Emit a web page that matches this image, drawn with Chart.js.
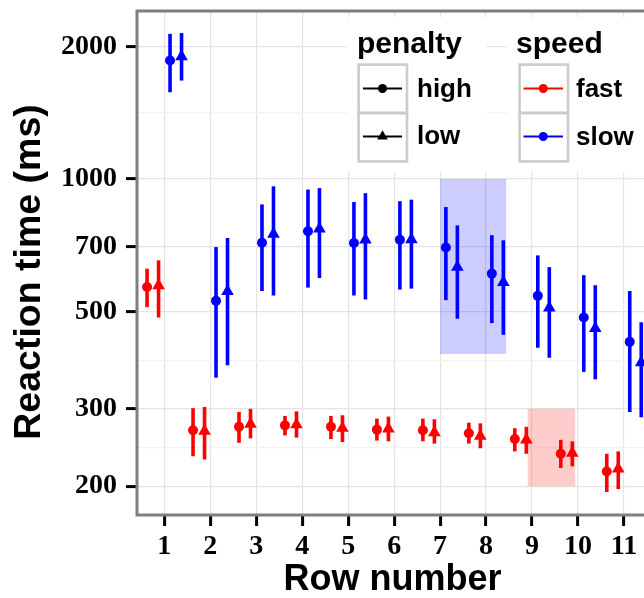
<!DOCTYPE html>
<html>
<head>
<meta charset="utf-8">
<script src="https://cdn.jsdelivr.net/npm/chart.js@4.4.1/dist/chart.umd.min.js"></script>
<style>
  html, body { margin: 0; padding: 0; background: #ffffff; }
  #wrap { width: 644px; height: 598px; overflow: hidden; position: relative; }
  canvas { display: block; }
</style>
</head>
<body>
<div id="wrap"><canvas id="chart" width="648" height="598"></canvas></div>
<script>
// Row numbers on the x axis
const rows = [1, 2, 3, 4, 5, 6, 7, 8, 9, 10, 11];

// Reaction times (ms): point estimate and interval ends, per speed x penalty cell
const fastHigh   = [568, 268, 273, 275, 273, 269, 268, 264, 256, 237, 216];
const fastHighLo = [511, 234, 251, 261, 256, 254, 253, 250, 240, 220, 194];
const fastHighHi = [625, 301, 295, 289, 289, 285, 285, 279, 271, 255, 237];

const fastLow    = [572, 267, 277, 276, 271, 270, 265, 260, 255, 238, 219];
const fastLowLo  = [484, 230, 257, 258, 252, 253, 250, 244, 237, 222, 197];
const fastLowHi  = [653, 303, 300, 296, 290, 288, 284, 278, 273, 253, 240];

const slowHigh   = [1859, 528, 716, 760, 715, 727, 698, 609, 542, 484, 426];
const slowHighLo = [1575, 353, 556, 566, 543, 560, 530, 470, 413, 364, 295];
const slowHighHi = [2138, 700, 875, 946, 886, 890, 863, 745, 670, 604, 556];

const slowLow    = [1898, 555, 749, 770, 727, 728, 630, 582, 509, 457, 382];
const slowLowLo  = [1674, 377, 543, 595, 532, 563, 481, 442, 392, 350, 287];
const slowLowHi  = [2147, 734, 962, 953, 928, 897, 784, 725, 630, 573, 472];

// Y axis breaks (log scale) and the lighter in-between grid lines
const yBreaks = [200, 300, 500, 700, 1000, 2000];
const yMinorBreaks = [245, 387, 1414];

// Highlighted regions: x range (row units) and y range (ms)
const boxX0 = [7, 8.906];
const boxX1 = [8.4375, 9.9375];
const boxY0 = [400, 200];
const boxY1 = [1000, 300];
const boxFill = ['rgba(0,0,255,0.2)', 'rgba(255,0,0,0.2)'];

const RED = '#ff0000';
const BLUE = '#0000ff';
const SANS = '"Liberation Sans", Arial, sans-serif';
const SERIF = '"Liberation Serif", "Times New Roman", serif';

function series(values, lo, hi, dx, color, shape) {
  return {
    data: rows.map((r, i) => ({ x: r + dx, y: values[i] })),
    lo: lo,
    hi: hi,
    barColor: color,
    backgroundColor: color,
    borderWidth: 0,
    pointStyle: shape,
    pointRadius: shape === 'triangle' ? 7.3 : 5,
    pointHoverRadius: shape === 'triangle' ? 7.3 : 5,
    showLine: false
  };
}

const datasets = [
  series(fastHigh, fastHighLo, fastHighHi, -0.375, RED, 'circle'),
  series(fastLow, fastLowLo, fastLowHi, -0.125, RED, 'triangle'),
  series(slowHigh, slowHighLo, slowHighHi, 0.125, BLUE, 'circle'),
  series(slowLow, slowLowLo, slowLowHi, 0.375, BLUE, 'triangle')
];

// Shaded boxes and vertical interval bars, drawn under the point symbols
const underlays = {
  id: 'underlays',
  beforeDatasetsDraw(chart) {
    const { ctx, chartArea, scales: { x, y } } = chart;
    ctx.save();
    ctx.beginPath();
    ctx.rect(chartArea.left, chartArea.top, chartArea.right - chartArea.left, chartArea.bottom - chartArea.top);
    ctx.clip();
    for (let k = 0; k < boxX0.length; k++) {
      const px0 = x.getPixelForValue(boxX0[k]);
      const px1 = x.getPixelForValue(boxX1[k]);
      const py0 = y.getPixelForValue(boxY1[k]);
      const py1 = y.getPixelForValue(boxY0[k]);
      ctx.fillStyle = boxFill[k];
      ctx.fillRect(px0, py0, px1 - px0, py1 - py0);
    }
    ctx.lineWidth = 3.6;
    ctx.lineCap = 'butt';
    chart.data.datasets.forEach(ds => {
      ctx.strokeStyle = ds.barColor;
      ds.data.forEach((pt, i) => {
        const px = x.getPixelForValue(pt.x);
        ctx.beginPath();
        ctx.moveTo(px, y.getPixelForValue(ds.hi[i]));
        ctx.lineTo(px, y.getPixelForValue(ds.lo[i]));
        ctx.stroke();
      });
    });
    ctx.restore();
  }
};

// Legends inside the panel, grey panel frame, and the vertical axis title
const overlays = {
  id: 'overlays',
  afterDraw(chart) {
    const { ctx, chartArea } = chart;
    ctx.save();

    // legend backgrounds
    ctx.fillStyle = '#ffffff';
    ctx.fillRect(347, 17, 140, 155);
    ctx.fillRect(507, 17, 141, 155);

    ctx.fillStyle = '#000000';
    ctx.textAlign = 'left';
    ctx.textBaseline = 'alphabetic';
    ctx.font = 'bold 30px ' + SANS;
    ctx.fillText('penalty', 357, 53);
    ctx.fillText('speed', 516, 53);

    ctx.font = 'bold 26px ' + SANS;
    ctx.fillText('high', 417, 97);
    ctx.fillText('low', 417, 144);
    ctx.fillText('fast', 576, 97);
    ctx.fillText('slow', 576, 145);

    // key boxes
    ctx.strokeStyle = '#cccccc';
    ctx.lineWidth = 2.6;
    [[358.6, 64.6], [358.6, 113], [519.6, 64.6], [519.6, 113]].forEach(([bx, by]) => {
      ctx.strokeRect(bx, by, 48.4, 48.4);
    });

    const keys = [
      { x0: 363, x1: 402, y: 88.5, color: '#000000', shape: 'circle', r: 4.5 },
      { x0: 363, x1: 402, y: 136.5, color: '#000000', shape: 'triangle', r: 6.2 },
      { x0: 523.5, x1: 563, y: 88.5, color: RED, shape: 'circle', r: 4.5 },
      { x0: 523.5, x1: 563, y: 136.5, color: BLUE, shape: 'circle', r: 4.5 }
    ];
    keys.forEach(k => {
      ctx.strokeStyle = k.color;
      ctx.fillStyle = k.color;
      ctx.lineWidth = 2.2;
      ctx.beginPath();
      ctx.moveTo(k.x0, k.y);
      ctx.lineTo(k.x1, k.y);
      ctx.stroke();
      Chart.helpers.drawPoint(ctx, { pointStyle: k.shape, radius: k.r, rotation: 0, borderWidth: 0 }, (k.x0 + k.x1) / 2, k.y);
    });

    // panel frame
    ctx.strokeStyle = '#7f7f7f';
    ctx.lineWidth = 3;
    ctx.strokeRect(chartArea.left, chartArea.top, chartArea.right - chartArea.left, chartArea.bottom - chartArea.top);

    // y axis title
    ctx.translate(30, 272);
    ctx.rotate(-Math.PI / 2);
    ctx.fillStyle = '#000000';
    ctx.textAlign = 'center';
    ctx.textBaseline = 'middle';
    ctx.font = 'bold 37.5px ' + SANS;
    ctx.fillText('Reaction time (ms)', 0, 0);
    ctx.restore();
  }
};

const isMinor = v => yMinorBreaks.includes(v);
const noEdgePadding = scale => {
  scale.paddingTop = 0;
  scale.paddingBottom = 0;
  scale.paddingLeft = 0;
  scale.paddingRight = 0;
};

new Chart(document.getElementById('chart'), {
  type: 'scatter',
  data: { datasets: datasets },
  plugins: [underlays, overlays],
  options: {
    responsive: false,
    animation: false,
    devicePixelRatio: 1,
    layout: { autoPadding: false, padding: { top: 11, left: 0, right: 0, bottom: 0 } },
    plugins: { legend: { display: false }, tooltip: { enabled: false } },
    scales: {
      x: {
        type: 'linear',
        min: 0.406,
        max: 11.522,
        afterFit(scale) { scale.height = 83; noEdgePadding(scale); },
        afterBuildTicks(scale) { scale.ticks = rows.map(v => ({ value: v })); },
        border: { display: false },
        grid: {
          color: '#e4e4e4',
          lineWidth: 1.2,
          drawTicks: true,
          tickLength: 11,
          tickColor: '#000000',
          tickWidth: 3
        },
        ticks: {
          color: '#000000',
          padding: 4,
          font: { family: SERIF, weight: 'bold', size: 28 },
          callback: v => String(v)
        },
        title: {
          display: true,
          text: 'Row number',
          color: '#000000',
          padding: 0,
          font: { family: SANS, weight: 'bold', size: 36, lineHeight: 1 }
        }
      },
      y: {
        type: 'logarithmic',
        min: 172,
        max: 2410,
        afterFit(scale) { scale.width = 137; noEdgePadding(scale); },
        afterBuildTicks(scale) {
          scale.ticks = yBreaks.concat(yMinorBreaks).sort((a, b) => a - b).map(v => ({ value: v }));
        },
        border: { display: false },
        grid: {
          color: ctx => (ctx.tick && isMinor(ctx.tick.value)) ? '#f3f3f3' : '#e4e4e4',
          lineWidth: 1.2,
          drawTicks: true,
          tickLength: 11,
          tickColor: ctx => (ctx.tick && isMinor(ctx.tick.value)) ? 'rgba(0,0,0,0)' : '#000000',
          tickWidth: 3
        },
        ticks: {
          color: '#000000',
          padding: 9,
          autoSkip: false,
          font: { family: SERIF, weight: 'bold', size: 28 },
          callback: v => yBreaks.includes(v) ? String(v) : ''
        },
        title: { display: false }
      }
    }
  }
});
</script>
</body>
</html>
